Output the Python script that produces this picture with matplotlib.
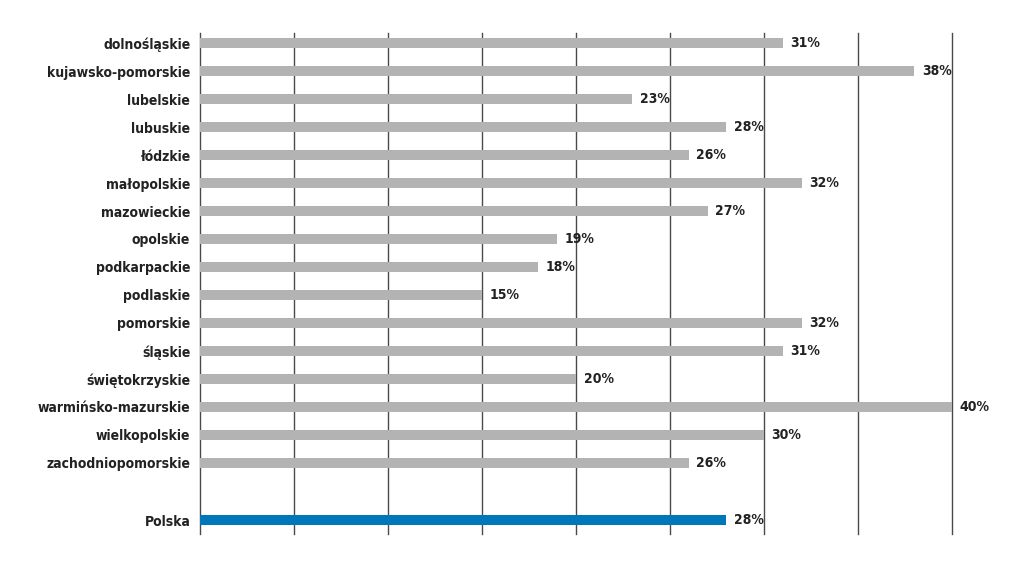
import matplotlib.pyplot as plt

regions = ['dolnośląskie', 'kujawsko-pomorskie', 'lubelskie', 'lubuskie', 'łódzkie',
           'małopolskie', 'mazowieckie', 'opolskie', 'podkarpackie', 'podlaskie',
           'pomorskie', 'śląskie', 'świętokrzyskie', 'warmińsko-mazurskie',
           'wielkopolskie', 'zachodniopomorskie']
values = [31, 38, 23, 28, 26, 32, 27, 19, 18, 15, 32, 31, 20, 40, 30, 26]
total_label = 'Polska'
total_value = 28

plt.rcParams['font.family'] = ['DejaVu Sans']
plt.rcParams['font.stretch'] = 'condensed'

fig = plt.figure(figsize=(10.24, 5.72), dpi=100)
ax = fig.add_axes([200 / 1024, 1 - 534 / 572, 752 / 1024, 501 / 572])

ypos = list(range(len(regions)))
ax.barh(ypos, values, height=0.36, color='#b3b3b3', zorder=3)
ytot = len(regions) + 1.04
ax.barh([ytot], [total_value], height=0.36, color='#0077b8', zorder=3)

for y, v in zip(ypos + [ytot], values + [total_value]):
    ax.text(v + 0.4, y, f'{v}%', va='center', ha='left', fontsize=10,
            fontweight='bold', fontstretch='condensed', color='#222222')

ax.set_yticks(ypos + [ytot])
ax.set_yticklabels(regions + [total_label], fontsize=10, fontweight='bold',
                   fontstretch='condensed', color='#222222')
ax.tick_params(axis='y', length=0, pad=7)
ax.set_xlim(0, 40)
ax.set_ylim(17.54, -0.36)
ax.set_xticks([])
for x in range(0, 41, 5):
    ax.axvline(x, color='#4a4a4a', linewidth=1, zorder=0, clip_on=False)
for s in ax.spines.values():
    s.set_visible(False)

fig.savefig('out.png', dpi=100)
